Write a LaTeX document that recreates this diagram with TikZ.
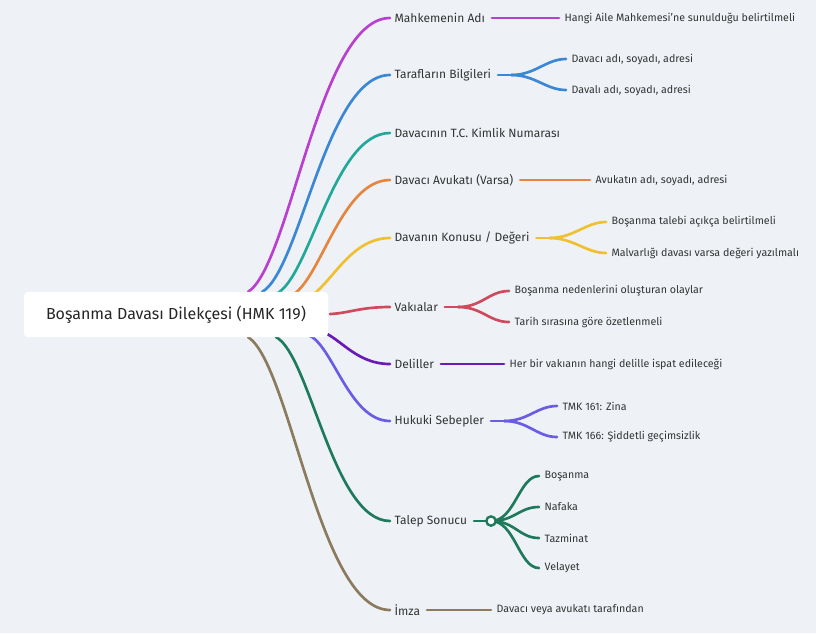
\documentclass[tikz,border=0pt]{standalone}
\usepackage{fontspec}
\setmainfont{Fira Sans}
\begin{document}
\begin{tikzpicture}[x=0.75pt,y=-0.75pt,
 br/.style={line width=2pt,line cap=round},
 blab/.style={anchor=west,font=\fontsize{9}{11}\selectfont,text=black!80,inner sep=1pt},
 clab/.style={anchor=west,font=\fontsize{8}{10}\selectfont,text=black!80,inner sep=1pt}]
\definecolor{bg}{HTML}{EEF2F6}
\definecolor{c1}{HTML}{B93FD0}\definecolor{c2}{HTML}{3A87D6}\definecolor{c3}{HTML}{22A89A}
\definecolor{c4}{HTML}{E5853F}\definecolor{c5}{HTML}{F0C030}\definecolor{c6}{HTML}{D04A5E}
\definecolor{c7}{HTML}{6A1AB8}\definecolor{c8}{HTML}{6B5CE6}\definecolor{c9}{HTML}{1E7A5A}
\definecolor{c10}{HTML}{8B7A5E}
\fill[bg] (0,0) rectangle (816,633);
\useasboundingbox (0,0) rectangle (816,633);
% branch curves
\def\bc#1#2#3#4{\pgfmathsetmacro\mx{(#2+390)/2}\pgfmathsetmacro\ma{#2+0.3*(390-#2)}\draw[br,#1] (#2,#3) .. controls (\ma,#3+0.1*#4-0.1*#3) and (\mx,#4) .. (390,#4);}
\bc{c1}{248}{292}{18}
\bc{c2}{262}{292}{75}
\bc{c3}{276}{294}{133}
\bc{c4}{290}{296}{180}
\bc{c5}{302}{300}{238}
\bc{c6}{330}{314}{307}
\bc{c7}{316}{330}{364}
\bc{c8}{308}{335}{421}
\bc{c9}{276}{337}{521}
\bc{c10}{248}{337}{610}
\node[fill=white,rounded corners=3pt,minimum width=228pt,minimum height=34pt,font=\fontsize{12}{14}\selectfont,text=black!85] (root) at (176,314.5) {Boşanma Davası Dilekçesi (HMK 119)};
% labels
\node[blab] (b1) at (393,18) {Mahkemenin Adı};
\node[blab] (b2) at (393,75) {Tarafların Bilgileri};
\node[blab] (b3) at (393,133) {Davacının T.C. Kimlik Numarası};
\node[blab] (b4) at (393,180) {Davacı Avukatı (Varsa)};
\node[blab] (b5) at (393,238) {Davanın Konusu / Değeri};
\node[blab] (b6) at (393,307) {Vakıalar};
\node[blab] (b7) at (393,364) {Deliller};
\node[blab] (b8) at (393,421) {Hukuki Sebepler};
\node[blab] (b9) at (393,521) {Talep Sonucu};
\node[blab] (b10) at (393,610) {İmza};
% children
\node[clab] (k1) at (563,18) {Hangi Aile Mahkemesi'ne sunulduğu belirtilmeli};
\draw[br,c1] ([xshift=4pt]b1.east) -- ([xshift=-3pt]k1.west);
\node[clab] (k2a) at (570,59) {Davacı adı, soyadı, adresi};
\node[clab] (k2b) at (570,90) {Davalı adı, soyadı, adresi};
\node[clab] (k4) at (594,180) {Avukatın adı, soyadı, adresi};
\draw[br,c4] ([xshift=4pt]b4.east) -- ([xshift=-3pt]k4.west);
\node[clab] (k5a) at (610,222) {Boşanma talebi açıkça belirtilmeli};
\node[clab] (k5b) at (610,253) {Malvarlığı davası varsa değeri yazılmalı};
\node[clab] (k6a) at (513,291) {Boşanma nedenlerini oluşturan olaylar};
\node[clab] (k6b) at (513,322) {Tarih sırasına göre özetlenmeli};
\node[clab] (k7) at (508,364) {Her bir vakıanın hangi delille ispat edileceği};
\draw[br,c7] ([xshift=4pt]b7.east) -- ([xshift=-3pt]k7.west);
\node[clab] (k8a) at (561,406) {TMK 161: Zina};
\node[clab] (k8b) at (561,437) {TMK 166: Şiddetli geçimsizlik};
\node[clab] (k9a) at (543,476) {Boşanma};
\node[clab] (k9b) at (543,507) {Nafaka};
\node[clab] (k9c) at (543,538) {Tazminat};
\node[clab] (k9d) at (543,568) {Velayet};
\node[clab] (k10) at (495,610) {Davacı veya avukatı tarafından};
\draw[br,c10] ([xshift=4pt]b10.east) -- ([xshift=-3pt]k10.west);
% forks
\def\fork#1#2#3#4{%
 \coordinate (f) at ([xshift=14pt]#2.east);
 \draw[br,#1] ([xshift=4pt]#2.east) -- (f);
 \draw[br,#1] (f) .. controls ([xshift=18pt]f) and ([xshift=-18pt]#3.west) .. ([xshift=-3pt]#3.west);
 \draw[br,#1] (f) .. controls ([xshift=18pt]f) and ([xshift=-18pt]#4.west) .. ([xshift=-3pt]#4.west);}
\fork{c2}{b2}{k2a}{k2b}
\fork{c5}{b5}{k5a}{k5b}
\fork{c6}{b6}{k6a}{k6b}
\fork{c8}{b8}{k8a}{k8b}
\coordinate (o9) at (491,521);
\draw[br,c9] ([xshift=4pt]b9.east) -- (o9);
\foreach \k in {k9a,k9b,k9c,k9d}
 \draw[br,c9] (o9) .. controls ([xshift=18pt]o9) and ([xshift=-18pt]\k.west) .. ([xshift=-3pt]\k.west);
\node[circle,draw=c9,fill=white,line width=1.8pt,minimum size=7pt,inner sep=0pt] (oc) at (o9) {};
\end{tikzpicture}
\end{document}
